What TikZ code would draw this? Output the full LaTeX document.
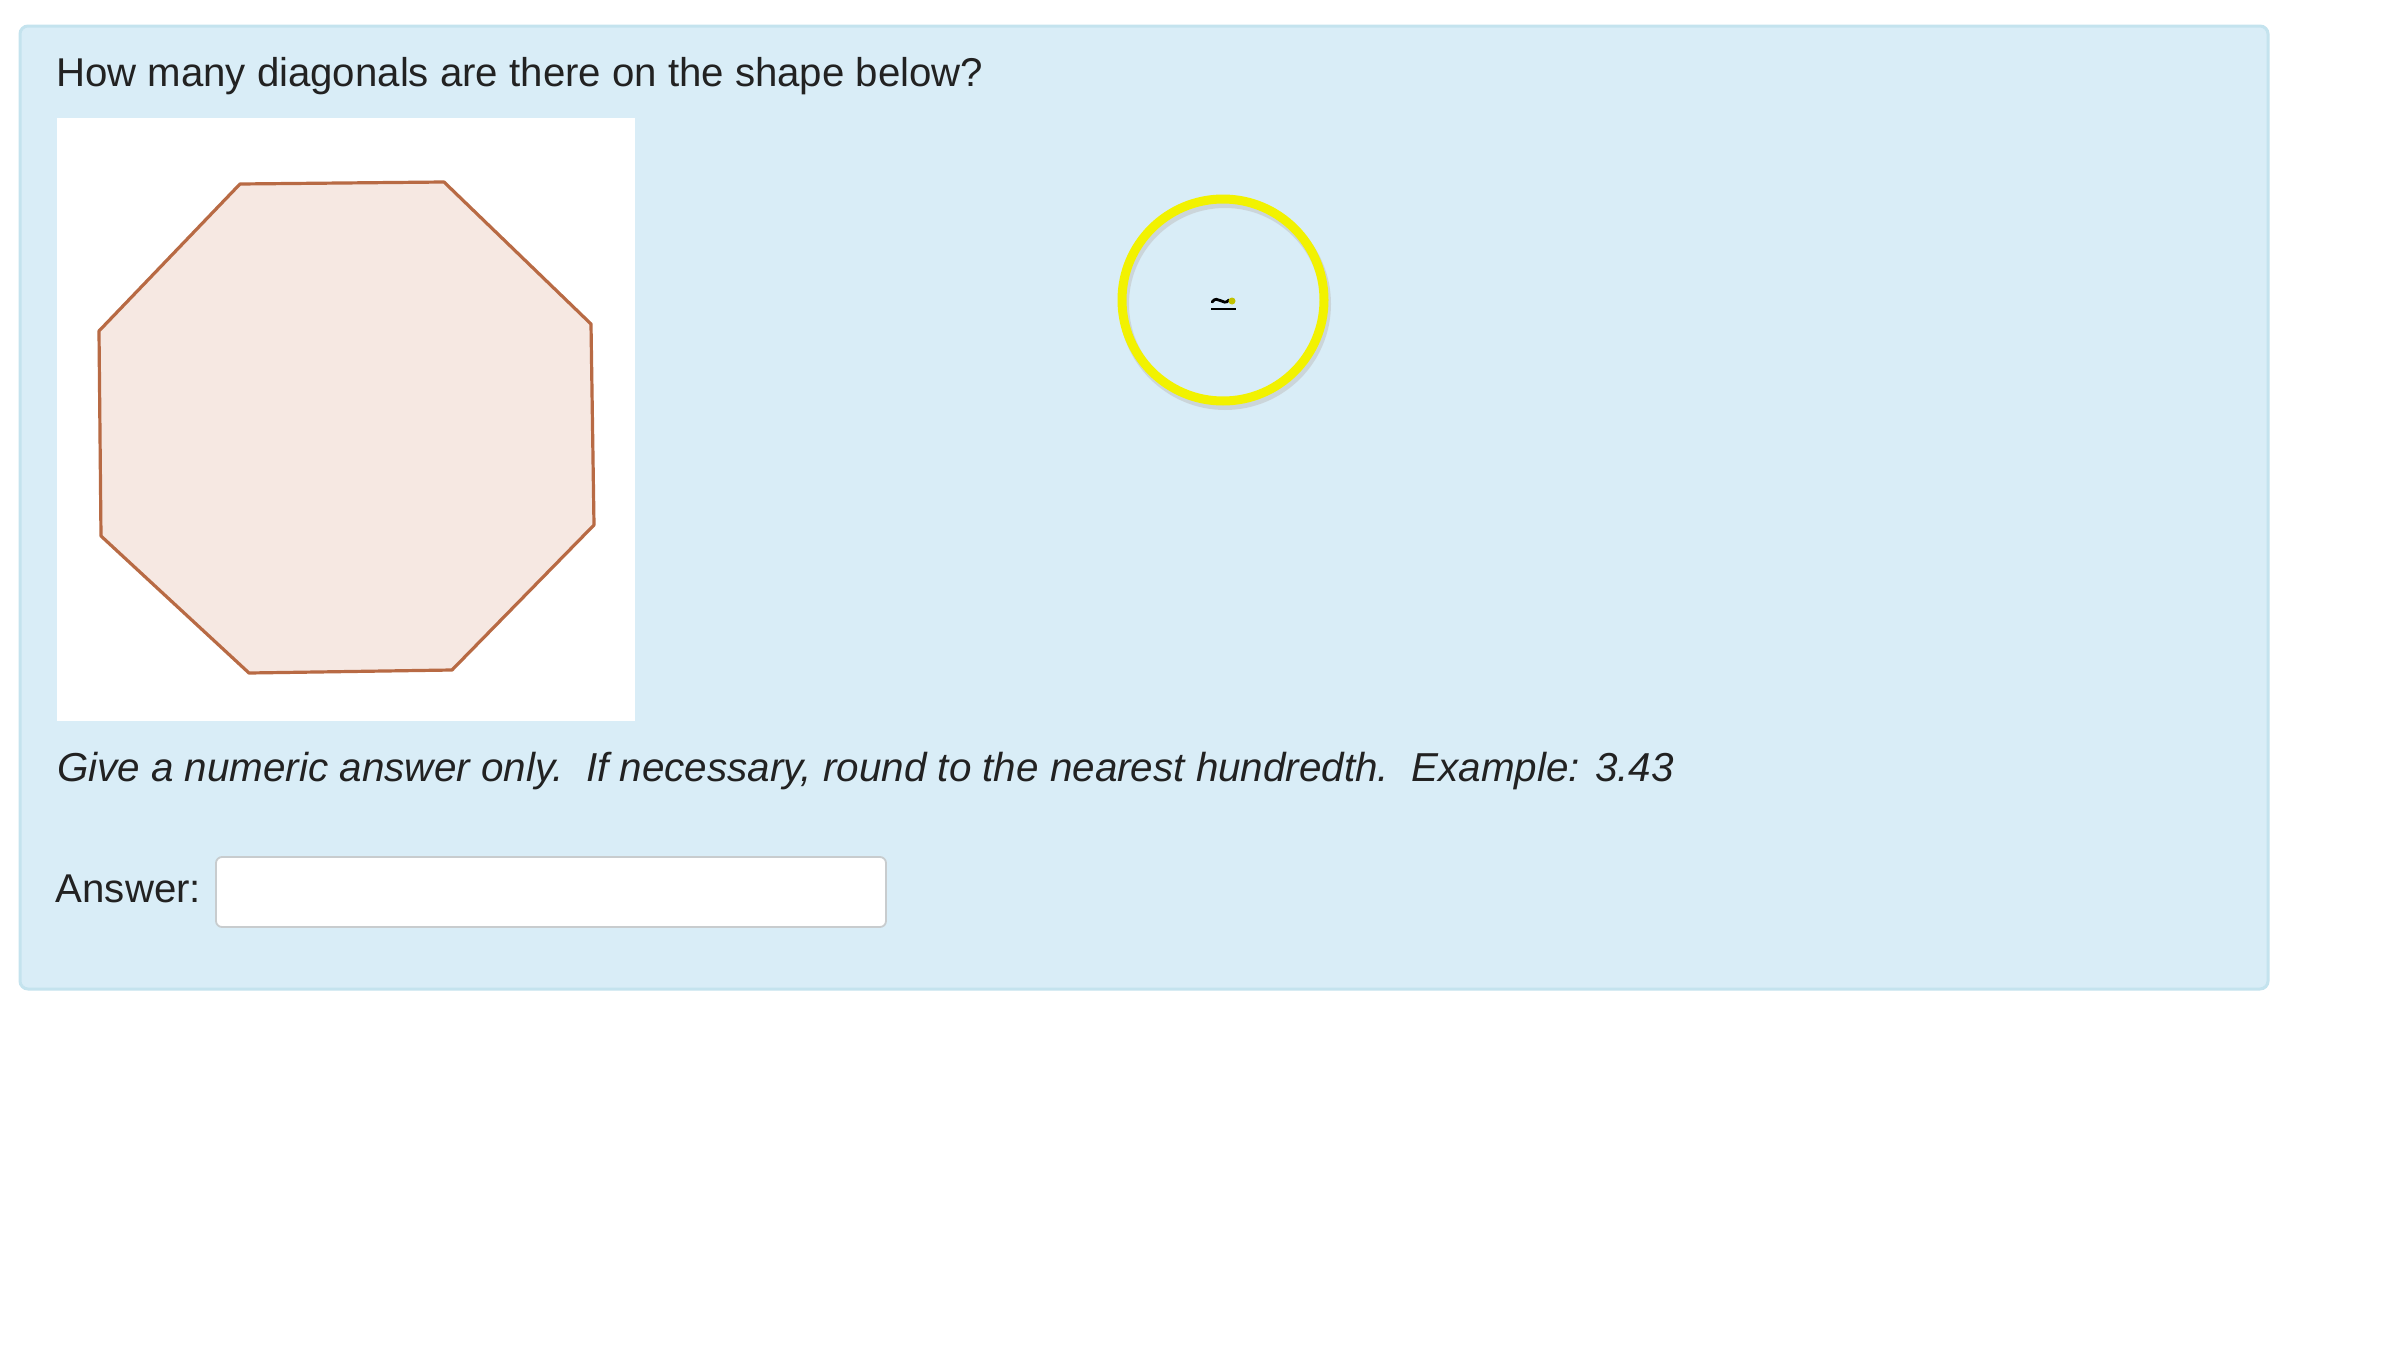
\documentclass[tikz,border=0pt]{standalone}
\usepackage{fontspec}
\setmainfont{Liberation Sans}
\usepackage{tikz}
\usetikzlibrary{positioning, calc}

\definecolor{panelblue}{HTML}{D9EDF7}
\definecolor{panelline}{HTML}{C4E3EE}
\definecolor{octfill}{HTML}{F6E8E2}
\definecolor{octline}{HTML}{B86A44}
\definecolor{txtgray}{HTML}{222222}
\definecolor{hiyellow}{HTML}{F2F200}
\definecolor{boxline}{HTML}{C8CCCE}

\begin{document}
\begin{tikzpicture}[x=0.5pt, y=-0.5pt,
  every node/.style={inner sep=0pt, outer sep=0pt, text=txtgray},
  qtext/.style={anchor=base west, font=\fontsize{20.1}{24}\selectfont},
  itext/.style={anchor=base west, font=\fontsize{20.2}{24}\selectfont\itshape}]
\useasboundingbox (0,0) rectangle (2400,1349);
\fill[white] (0,0) rectangle (2400,1349);

% panel
\draw[panelline, fill=panelblue, line width=1.5pt, rounded corners=4pt] (20,26) rectangle (2268,989);

% picture box
\fill[white] (57,118) rectangle (635,721);

% octagon
\coordinate (v1) at (240,184);
\coordinate (v2) at (444,182);
\coordinate (v3) at (591,324);
\coordinate (v4) at (594,525);
\coordinate (v5) at (452,670);
\coordinate (v6) at (249,673);
\coordinate (v7) at (101,536);
\coordinate (v8) at (99,331);
\draw[octline, fill=octfill, line width=1.6pt, line join=round]
  (v1) -- (v2) -- (v3) -- (v4) -- (v5) -- (v6) -- (v7) -- (v8) -- cycle;

% texts
\node(q)[qtext] at (56,86) {How many diagonals are there on the shape below?};
\node(hint)[itext] at (57,781) {Give a numeric answer only.\ \ If necessary, round to the nearest hundredth.\ \ Example: 3.43};

% answer box
\node(box)[draw=boxline, fill=white, line width=0.9pt, rounded corners=3pt,
  minimum width=335pt, minimum height=35pt] at (551,892) {};
\node(ans)[qtext, anchor=base east] at ($(box.west)+(-15,10)$) {Answer:};

% cursor highlight
\coordinate (cur) at (1223,300);
\draw[black!25, line width=5pt, opacity=.5] ($(cur)+(2,4)$) circle (101);
\draw[hiyellow, line width=4.5pt] (cur) circle (101);
\draw[black, line width=1.4pt] ($(cur)+(-12,9)$) -- ($(cur)+(13,9)$);
\draw[black, line width=1.4pt, line cap=round] ($(cur)+(-11,2)$) .. controls ($(cur)+(-5,-6)$) and ($(cur)+(0,7)$) .. ($(cur)+(6,0)$);
\fill[hiyellow!80!black] ($(cur)+(9,1)$) circle (3.5);
\end{tikzpicture}
\end{document}
